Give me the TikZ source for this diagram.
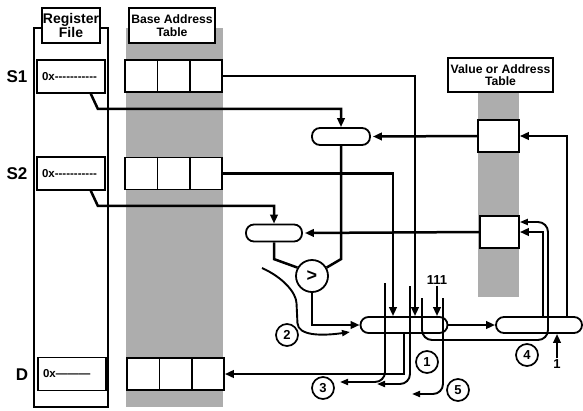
\documentclass[tikz,border=0pt]{standalone}
\usepackage{fontspec}
\setmainfont{Liberation Sans}
\newfontfamily\regfont{Liberation Sans}
\usepackage{tikz}
\usetikzlibrary{
  arrows.meta,
  positioning,
  calc
}
\definecolor{DotGray}{gray}{0.68}
\tikzset{
  % Table header box
  hdr/.style={
    rectangle, draw, fill=white, line width=1.6pt,
    minimum width=#1, minimum height=35pt, inner sep=1pt,
    align=center, font=\fontsize{12.2}{12.6}\selectfont\bfseries
  },
  % Register entry
  reg/.style={
    rectangle, draw, fill=white, line width=1.6pt,
    minimum width=68pt, minimum height=33pt,
    text width=58pt, align=left, font=\regfont\fontsize{11.5}{11.5}\selectfont\bfseries
  },
  % Table row / entry
  row/.style={
    rectangle, draw, fill=white, line width=1.7pt,
    minimum width=#1, minimum height=32pt
  },
  % Multiplexer (pill)
  mux/.style={
    rectangle, rounded corners=8pt, draw, line width=1.8pt,
    minimum width=#1, minimum height=17pt
  },
  % Comparator
  cmpc/.style={
    circle, draw, line width=1.8pt, minimum size=32pt, inner sep=0pt,
    font=\fontsize{18}{18}\selectfont\bfseries
  },
  % Circled step number
  num/.style={
    circle, draw, line width=1.7pt, minimum size=22pt, inner sep=0pt,
    font=\fontsize{13}{13}\selectfont\bfseries
  },
  % Row label
  side/.style={font=\fontsize{17}{17}\selectfont\bfseries},
  % Constant label
  cst/.style={font=\fontsize{13}{13}\selectfont\bfseries, inner sep=1pt},
  % Wires
  wire/.style={line width=2.5pt},
  arr/.style={-{Triangle[length=9pt,width=7.5pt]}, line width=2.5pt},
  flow/.style={-{Triangle[length=8pt,width=6pt]}, line width=1.9pt, rounded corners=10pt}
}

\begin{document}
\begin{tikzpicture}[x=1pt, y=-1pt]
  \useasboundingbox (0,0) rectangle (583,410);

  % Shaded table columns and register file frame
  \fill[DotGray] (126,28) rectangle (223,407);
  \fill[DotGray] (478,92) rectangle (519,297);
  \draw[line width=1.6pt] (34,28) rectangle (108,407);

  % Headers
  \node[hdr=58pt, font=\fontsize{14}{13}\selectfont\bfseries] (rfhdr) at (71,25.5) {Register\\File};
  \node[hdr=86pt]  (bahdr) at (172,25.5)  {Base Address\\Table};
  \node[hdr=105pt, minimum height=34pt] (vahdr) at (500.5,75) {Value or Address\\Table};

  % Register file entries
  \node[reg] (rs1) at (71,76.5)  {0x-----------};
  \node[reg] (rs2) at (71,173.5) {0x-----------};
  \node[reg] (rd)  at (72,374)   {0x———};
  \node[side] (ls1) at (17,77)  {S1};
  \node[side] (ls2) at (17,174) {S2};
  \node[side] (ld)  at (22,375) {D};

  % Base address table rows
  \node[row=97pt] (bs1) at (173.5,76)  {};
  \node[row=97pt] (bs2) at (173.5,173.5) {};
  \node[row=97pt] (bd)  at (175.5,374) {};
  \draw[line width=1.1pt] ($(bs1.north west)!1/3!(bs1.north east)$) -- ($(bs1.south west)!1/3!(bs1.south east)$);
  \draw[line width=1.1pt] ($(bs1.north west)!2/3!(bs1.north east)$) -- ($(bs1.south west)!2/3!(bs1.south east)$);
  \draw[line width=1.1pt] ($(bs2.north west)!1/3!(bs2.north east)$) -- ($(bs2.south west)!1/3!(bs2.south east)$);
  \draw[line width=1.1pt] ($(bs2.north west)!2/3!(bs2.north east)$) -- ($(bs2.south west)!2/3!(bs2.south east)$);
  \draw[line width=1.1pt] ($(bd.north west)!1/3!(bd.north east)$) -- ($(bd.south west)!1/3!(bd.south east)$);
  \draw[line width=1.1pt] ($(bd.north west)!2/3!(bd.north east)$) -- ($(bd.south west)!2/3!(bd.south east)$);

  % Value or address table entries
  \node[row=41pt] (vt1) at (498.5,136) {};
  \node[row=39pt] (vt2) at (499.5,232) {};

  % Multiplexers and comparator
  \node[mux=58pt] (mxa) at (341,136.5) {};
  \node[mux=56pt] (mxb) at (274,233)   {};
  \node[mux=87pt, minimum height=16pt] (mxc) at (404,325) {};
  \node[mux=86pt, minimum height=16pt] (mxd) at (539,325) {};
  \node[cmpc] (cmp) at (312,276) {>};

  % Constants
  \node[cst] (k111) at (437,280) {111};
  \node[cst] (kone) at (557,364) {1};

  % Step numbers
  \node[num] (n1) at (427,362) {1};
  \node[num] (n2) at (287,335) {2};
  \node[num] (n3) at (323,388) {3};
  \node[num] (n4) at (527,355) {4};
  \node[num] (n5) at (458,390) {5};

  % Main datapath
  \draw[arr]  (bs1.east) -| ([xshift=11pt]mxc.north);
  \draw[arr]  (bs2.east) -| ([xshift=-11pt]mxc.north);
  \draw[arr]  ([xshift=-15pt]rs1.south east) -- ++(7,15) -| (mxa.north);
  \draw[arr]  ([xshift=-15pt]rs2.south east) -- ++(7,15) -| (mxb.north);
  \draw[arr]  (vt1.west) -- ([xshift=2pt]mxa.east);
  \draw[arr]  (vt2.west) -- ([xshift=2pt]mxb.east);
  \draw[wire] (mxa.south) -- (mxa.south |- cmp.north) -- (cmp.30);
  \draw[wire] (mxb.south) -- (mxb.south |- cmp.north) -- (cmp.150);
  \draw[arr]  (cmp.south) |- (mxc.west);
  \draw[arr]  (k111.south) -- (k111.south |- mxc.north);
  \draw[arr]  (mxc.east) -- (mxd.west);
  \draw[arr]  (kone.north) -- (kone.north |- mxd.south);
  \draw[arr]  ([xshift=28pt]mxd.north) |- (vt1.east);
  \draw[arr]  ([xshift=4pt]mxd.north) |- (vt2.east);
  \draw[arr]  (mxc.south) |- (bd.east);

  % Numbered flows
  \coordinate (p2s) at (262,268);
  \coordinate (p2e) at (350,332);
  \coordinate (p3s) at (385,283);
  \coordinate (p3e) at (340,382);
  \coordinate (p1s) at (410,286);
  \coordinate (p1e) at (377,384);
  \coordinate (p5s) at (443,298);
  \coordinate (p5e) at (412,394);
  \coordinate (p4s) at (422,298);
  \draw[flow] (p2s) .. controls (284,278) and (296,293) .. (297,313) .. controls (298,336) and (322,336) .. (p2e);
  \draw[flow] (p3s) |- (p3e);
  \draw[flow] (p1s) |- (p1e);
  \draw[flow] (p5s) |- (p5e);
  \draw[flow] (p4s) |- (548,340) |- ([yshift=10pt]vt2.east);

\end{tikzpicture}
\end{document}
